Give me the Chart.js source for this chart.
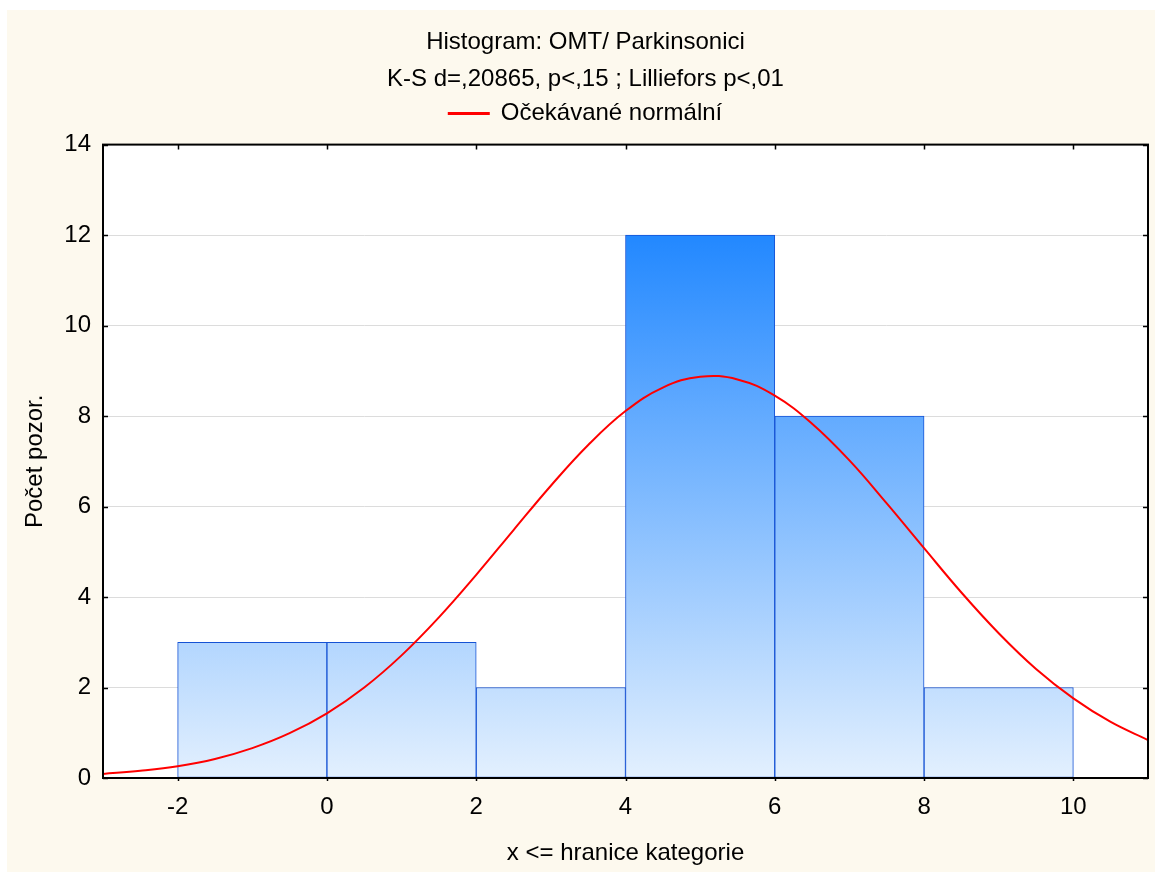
<!DOCTYPE html>
<html>
<head>
<meta charset="utf-8">
<script src="https://cdn.jsdelivr.net/npm/chart.js@4"></script>
<style>
  html, body { margin: 0; padding: 0; background: #ffffff; }
  #panel { position: absolute; left: 7px; top: 10px; width: 1148px; height: 862px; background: #fdf9ee; }
</style>
</head>
<body>
<div id="panel"><canvas id="hist"></canvas></div>
<script>
// histogram bins (upper bound inclusive), width 2
const binCenters = [-1, 1, 3, 5, 7, 9];
const binCounts  = [3, 3, 2, 12, 8, 2];

// expected normal curve
const curveX = [-3, -2.5, -2, -1.5, -1, -0.5, 0, 0.5, 1, 1.5, 2, 2.5, 3, 3.5, 4, 4.5, 5, 5.5, 6, 6.5, 7, 7.5, 8, 8.5, 9, 9.5, 10, 10.5, 11];
const curveY = [0.09, 0.16, 0.26, 0.42, 0.66, 0.99, 1.43, 2.00, 2.71, 3.55, 4.49, 5.48, 6.46, 7.36, 8.11, 8.63, 8.87, 8.81, 8.45, 7.83, 7.02, 6.07, 5.08, 4.10, 3.20, 2.41, 1.76, 1.24, 0.84];

const xTicks = [-2, 0, 2, 4, 6, 8, 10];
const yTicks = [0, 2, 4, 6, 8, 10, 12, 14];

const FONT = "'Liberation Sans', Arial, sans-serif";
const FS = 24;

// white plot area + black frame with inward ticks
const framePlugin = {
  id: "frame",
  beforeInit(chart) {
    // small gap between the legend and the plot
    Chart.layouts.addBox(chart, {
      position: "top", weight: 500, fullSize: true, options: {},
      left: 0, top: 0, right: 0, bottom: 0, width: 0, height: 0,
      update(w) { this.width = w; this.height = 9; },
      isHorizontal() { return true; },
      draw() {}
    });
  },
  beforeDraw(chart) {
    const { ctx, chartArea: a } = chart;
    ctx.save();
    ctx.fillStyle = "#ffffff";
    ctx.fillRect(a.left, a.top, a.right - a.left, a.bottom - a.top);
    ctx.restore();
  },
  afterDraw(chart) {
    const { ctx, chartArea: a, scales } = chart;
    ctx.save();
    ctx.strokeStyle = "#000";
    ctx.lineWidth = 2;
    ctx.strokeRect(a.left, a.top, a.right - a.left, a.bottom - a.top);
    ctx.lineWidth = 1.5;
    ctx.beginPath();
    xTicks.forEach(v => {
      const px = Math.round(scales.x.getPixelForValue(v)) + 0.5;
      ctx.moveTo(px, a.top); ctx.lineTo(px, a.top + 5);
      ctx.moveTo(px, a.bottom); ctx.lineTo(px, a.bottom + 3);
    });
    yTicks.forEach(v => {
      const py = Math.round(scales.y.getPixelForValue(v)) + 0.5;
      ctx.moveTo(a.left, py); ctx.lineTo(a.left + 5, py);
      ctx.moveTo(a.right, py); ctx.lineTo(a.right - 5, py);
    });
    ctx.stroke();
    ctx.restore();
  }
};

function barGradient(context) {
  const chart = context.chart;
  const { ctx, chartArea, scales } = chart;
  if (!chartArea) return "#7ab8ff";
  const g = ctx.createLinearGradient(0, scales.y.getPixelForValue(0), 0, scales.y.getPixelForValue(12));
  g.addColorStop(0, "#e3f0fe");
  g.addColorStop(1, "#2288ff");
  return g;
}

const ctx = document.getElementById("hist").getContext("2d");
new Chart(ctx, {
  data: {
    datasets: [
      {
        type: "line",
        label: "Očekávané normální",
        data: curveX.map((x, i) => ({ x, y: curveY[i] })),
        borderColor: "#ff0000",
        backgroundColor: "#ff0000",
        borderWidth: 2,
        pointRadius: 0,
        tension: 0.4,
        order: 0
      },
      {
        type: "bar",
        label: "bins",
        data: binCenters.map((x, i) => ({ x, y: binCounts[i] })),
        backgroundColor: barGradient,
        borderColor: "#1552d4",
        borderWidth: 1,
        borderSkipped: false,
        barPercentage: 1,
        categoryPercentage: 1,
        order: 1
      }
    ]
  },
  options: {
    responsive: true,
    maintainAspectRatio: false,
    animation: false,
    layout: { padding: { left: 16, right: 7, top: 0, bottom: 0 } },
    plugins: {
      title: {
        display: true,
        text: "Histogram: OMT/ Parkinsonici",
        color: "#000",
        font: { family: FONT, size: FS, weight: "normal", lineHeight: 1.2 },
        padding: { top: 18, bottom: 8 }
      },
      subtitle: {
        display: true,
        text: "K-S d=,20865, p<,15 ; Lilliefors p<,01",
        color: "#000",
        font: { family: FONT, size: FS, weight: "normal", lineHeight: 1.2 },
        padding: { top: 0, bottom: 2 }
      },
      legend: {
        display: true,
        labels: {
          color: "#000",
          font: { family: FONT, size: FS },
          boxWidth: 40,
          boxHeight: 1,
          padding: 6,
          filter: item => item.datasetIndex === 0
        }
      },
      tooltip: { enabled: false }
    },
    scales: {
      x: {
        type: "linear",
        min: -3,
        max: 11,
        offset: false,
        afterBuildTicks: s => { s.ticks = xTicks.map(v => ({ value: v })); },
        afterFit: s => { s.height = 94; },
        grid: { display: false, drawTicks: false },
        border: { display: false },
        ticks: { color: "#000", font: { family: FONT, size: FS }, padding: 15, maxRotation: 0 },
        title: {
          display: true,
          text: "x <= hranice kategorie",
          color: "#000",
          font: { family: FONT, size: FS },
          padding: { top: 0, bottom: 4 }
        }
      },
      y: {
        min: 0,
        max: 14,
        afterBuildTicks: s => { s.ticks = yTicks.map(v => ({ value: v })); },
        afterFit: s => { s.width = 80; },
        grid: {
          drawTicks: false,
          color: c => (c.tick && (c.tick.value === 0 || c.tick.value === 14)) ? "rgba(0,0,0,0)" : "#dcdcdc",
          lineWidth: 1
        },
        border: { display: false },
        ticks: { color: "#000", font: { family: FONT, size: FS }, padding: 12 },
        title: {
          display: true,
          text: "Počet pozor.",
          color: "#000",
          font: { family: FONT, size: FS },
          padding: { top: -2, bottom: 0 }
        }
      }
    }
  },
  plugins: [framePlugin]
});
</script>
</body>
</html>
